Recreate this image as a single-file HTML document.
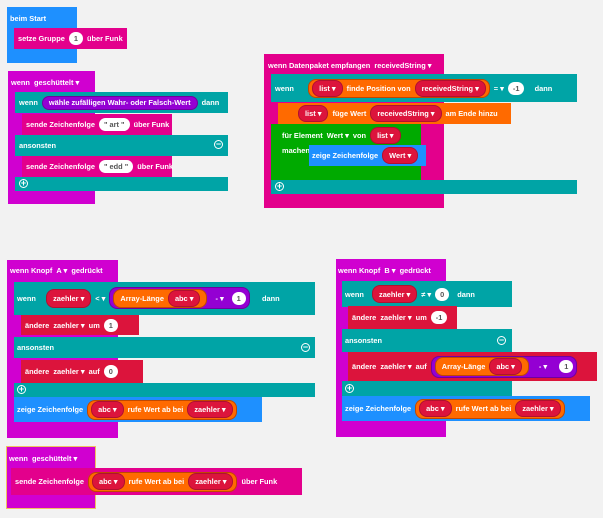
<!DOCTYPE html>
<html><head><meta charset="utf-8"><style>
body{margin:0;width:603px;height:518px;background:#f2f2f2;position:relative;overflow:hidden;font-family:"Liberation Sans",sans-serif;font-size:7.4px;font-weight:bold;color:#fff}
.b{position:absolute}
.r{position:absolute;display:flex;align-items:center;gap:4px;white-space:nowrap}
.p{display:inline-flex;align-items:center;height:15px;padding:0 6px;border-radius:8px}
.v{background:#dc143c;border:1px solid #b01030}
.w{background:#fff;color:#555;padding:0 5px;border-radius:8px;height:13px;display:inline-flex;align-items:center}
.o{background:#ff6a00;border:1px solid #c04800}
.pu{background:#9400d3;border:1px solid #70009f}
.t{background:#00a4a6}
.pk{background:#e3008c}
.mg{background:#d000d0}
.bl{background:#1e90ff}
.rd{background:#dc143c}
.gr{background:#00aa00}
.og{background:#ff6a00}
.c{display:inline-block;width:9px;height:9px;border:1.5px solid #fff;border-radius:50%;box-sizing:border-box;text-align:center;line-height:6px;font-size:9px}
</style></head><body>
<div class="b bl" style="left:7px;top:7px;width:70px;height:56px"></div>
<div class="r" style="left:10px;top:13px;height:10px">beim Start</div>
<div class="b pk" style="left:14px;top:28px;width:113px;height:21px"></div>
<div class="r" style="left:18px;top:31px;height:15px">setze Gruppe <span class="w">1</span> über Funk</div>

<div class="b mg" style="left:8px;top:71px;width:87px;height:133px"></div>
<div class="r" style="left:11px;top:77px;height:10px">wenn &nbsp;geschüttelt ▾</div>
<div class="b t" style="left:15px;top:92px;width:213px;height:21px"></div>
<div class="r" style="left:19px;top:95px;height:15px">wenn <span class="p pu" style="height:12px">wähle zufälligen Wahr- oder Falsch-Wert</span> dann</div>
<div class="b pk" style="left:22px;top:114px;width:150px;height:21px"></div>
<div class="r" style="left:26px;top:117px;height:15px">sende Zeichenfolge <span class="w">" art "</span> über Funk</div>
<div class="b t" style="left:15px;top:135px;width:213px;height:21px"></div>
<div class="r" style="left:19px;top:138px;height:15px">ansonsten</div>
<div class="r" style="left:214px;top:140px"><span class="c">−</span></div>
<div class="b pk" style="left:22px;top:156px;width:150px;height:21px"></div>
<div class="r" style="left:26px;top:159px;height:15px">sende Zeichenfolge <span class="w">" edd "</span> über Funk</div>
<div class="b t" style="left:15px;top:177px;width:213px;height:14px"></div>
<div class="r" style="left:19px;top:179px"><span class="c">+</span></div>

<div class="b pk" style="left:264px;top:54px;width:180px;height:154px"></div>
<div class="r" style="left:268px;top:60px;height:10px">wenn Datenpaket empfangen &nbsp;receivedString ▾</div>
<div class="b t" style="left:271px;top:74px;width:306px;height:28px"></div>
<div class="r" style="left:275px;top:80px;height:16px">wenn &nbsp;&nbsp;&nbsp;&nbsp;<span class="p o" style="padding:0 3px;gap:4px;height:17px"><span class="p v">list ▾</span> finde Position von <span class="p v">receivedString ▾</span></span> <span>= ▾</span> <span class="w">-1</span> &nbsp;&nbsp;&nbsp;dann</div>
<div class="b og" style="left:278px;top:103px;width:233px;height:21px"></div>
<div class="r" style="left:298px;top:106px;height:15px"><span class="p v">list ▾</span> füge Wert <span class="p v">receivedString ▾</span> am Ende hinzu</div>
<div class="b gr" style="left:271px;top:124px;width:150px;height:56px"></div>
<div class="r" style="left:282px;top:128px;height:15px">für Element &nbsp;Wert ▾ &nbsp;von <span class="p v">list ▾</span></div>
<div class="r" style="left:282px;top:145px;height:10px">machen</div>
<div class="b bl" style="left:309px;top:145px;width:117px;height:21px"></div>
<div class="r" style="left:312px;top:148px;height:15px">zeige Zeichenfolge <span class="p v">Wert ▾</span></div>
<div class="b t" style="left:271px;top:180px;width:306px;height:14px"></div>
<div class="r" style="left:275px;top:182px"><span class="c">+</span></div>

<div class="b mg" style="left:7px;top:260px;width:111px;height:178px"></div>
<div class="r" style="left:10px;top:265px;height:10px">wenn Knopf &nbsp;A ▾ &nbsp;gedrückt</div>
<div class="b t" style="left:14px;top:282px;width:301px;height:33px"></div>
<div class="r" style="left:17px;top:289px;height:18px">wenn &nbsp;&nbsp;<span class="p v" style="height:17px">zaehler ▾</span> <span>&lt; ▾</span> <span class="p pu" style="padding:0 3px;gap:8px;height:20px"><span class="p o" style="height:17px">Array-Länge <span class="p v" style="margin-left:4px">abc ▾</span></span> - ▾ <span class="w">1</span></span> &nbsp;&nbsp;&nbsp;&nbsp;dann</div>
<div class="b rd" style="left:21px;top:315px;width:118px;height:20px"></div>
<div class="r" style="left:25px;top:318px;height:14px">ändere &nbsp;zaehler ▾ &nbsp;um <span class="w">1</span></div>
<div class="b t" style="left:14px;top:337px;width:301px;height:21px"></div>
<div class="r" style="left:17px;top:340px;height:15px">ansonsten</div>
<div class="r" style="left:301px;top:343px"><span class="c">−</span></div>
<div class="b rd" style="left:21px;top:360px;width:122px;height:23px"></div>
<div class="r" style="left:25px;top:364px;height:14px">ändere &nbsp;zaehler ▾ &nbsp;auf <span class="w">0</span></div>
<div class="b t" style="left:14px;top:383px;width:301px;height:14px"></div>
<div class="r" style="left:17px;top:385px"><span class="c">+</span></div>
<div class="b bl" style="left:14px;top:397px;width:248px;height:25px"></div>
<div class="r" style="left:17px;top:401px;height:17px">zeige Zeichenfolge <span class="p o" style="padding:0 3px;gap:4px;height:18px"><span class="p v">abc ▾</span> rufe Wert ab bei <span class="p v">zaehler ▾</span></span></div>

<div class="b mg" style="left:336px;top:259px;width:110px;height:178px"></div>
<div class="r" style="left:338px;top:265px;height:10px">wenn Knopf &nbsp;B ▾ &nbsp;gedrückt</div>
<div class="b t" style="left:342px;top:281px;width:170px;height:26px"></div>
<div class="r" style="left:345px;top:286px;height:16px">wenn &nbsp;<span class="p v" style="height:16px">zaehler ▾</span> <span>≠ ▾</span> <span class="w">0</span> &nbsp;&nbsp;dann</div>
<div class="b rd" style="left:348px;top:306px;width:109px;height:23px"></div>
<div class="r" style="left:352px;top:310px;height:14px">ändere &nbsp;zaehler ▾ &nbsp;um <span class="w">-1</span></div>
<div class="b t" style="left:342px;top:329px;width:170px;height:23px"></div>
<div class="r" style="left:345px;top:333px;height:14px">ansonsten</div>
<div class="r" style="left:497px;top:336px"><span class="c">−</span></div>
<div class="b rd" style="left:348px;top:352px;width:249px;height:29px"></div>
<div class="r" style="left:352px;top:357px;height:19px">ändere &nbsp;zaehler ▾ &nbsp;auf <span class="p pu" style="padding:0 3px;gap:8px;height:20px"><span class="p o" style="height:17px">Array-Länge <span class="p v" style="margin-left:4px">abc ▾</span></span> &nbsp;- ▾ &nbsp;<span class="w">1</span></span></div>
<div class="b t" style="left:342px;top:381px;width:170px;height:15px"></div>
<div class="r" style="left:345px;top:384px"><span class="c">+</span></div>
<div class="b bl" style="left:342px;top:396px;width:248px;height:25px"></div>
<div class="r" style="left:345px;top:400px;height:17px">zeige Zeichenfolge <span class="p o" style="padding:0 3px;gap:4px;height:18px"><span class="p v">abc ▾</span> rufe Wert ab bei <span class="p v">zaehler ▾</span></span></div>

<div class="b mg" style="left:6px;top:446px;width:90px;height:63px;border:1px solid #f0c060;box-sizing:border-box"></div>
<div class="r" style="left:9px;top:453px;height:10px">wenn &nbsp;geschüttelt ▾</div>
<div class="b pk" style="left:11px;top:468px;width:291px;height:27px"></div>
<div class="r" style="left:15px;top:473px;height:17px">sende Zeichenfolge <span class="p o" style="padding:0 3px;gap:4px;height:18px"><span class="p v">abc ▾</span> rufe Wert ab bei <span class="p v">zaehler ▾</span></span> über Funk</div>
</body></html>
